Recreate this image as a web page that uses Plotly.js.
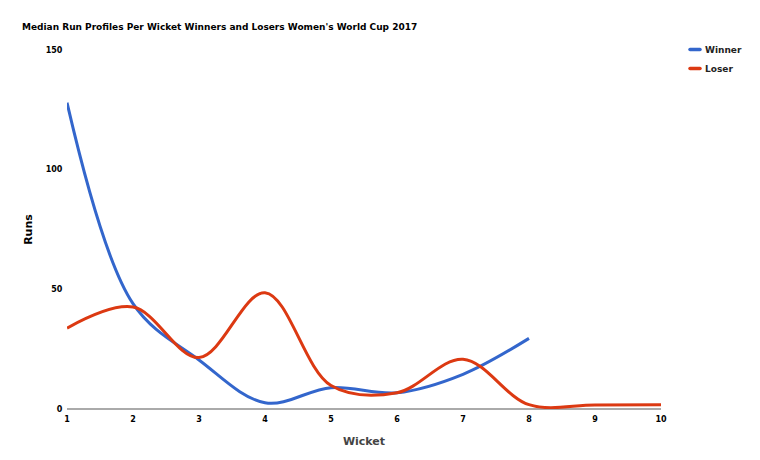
<!DOCTYPE html>
<html>
<head>
<meta charset="utf-8">
<script src="https://cdn.plot.ly/plotly-3.0.1.min.js"></script>
<style>html,body{margin:0;padding:0;background:#fff;}#chart{width:760px;height:460px;}</style>
</head>
<body>
<div id="chart"></div>
<script>
var wicketsWinner = [1, 2, 3, 4, 5, 6, 7, 8];
var winnerRuns = [128, 44, 20.5, 2.6, 8.9, 6.8, 14.5, 29.5];
var wicketsLoser = [1, 2, 3, 4, 5, 6, 7, 8, 9, 10];
var loserRuns = [33.8, 42.6, 21.5, 48.6, 9.8, 6.8, 20.8, 1.8, 1.7, 1.8];
var xTicks = [1, 2, 3, 4, 5, 6, 7, 8, 9, 10];
var yTicks = [0, 50, 100, 150];

var FONT = "Verdana, 'DejaVu Sans', sans-serif";

var traces = [
  {x: wicketsWinner, y: winnerRuns, name: 'Winner', mode: 'lines',
   line: {color: '#3366CC', width: 3, shape: 'spline', smoothing: 1}},
  {x: wicketsLoser, y: loserRuns, name: 'Loser', mode: 'lines',
   line: {color: '#DC3912', width: 3, shape: 'spline', smoothing: 1}}
];

var layout = {
  width: 760, height: 460,
  margin: {l: 67, r: 99, t: 50, b: 51},
  paper_bgcolor: '#fff', plot_bgcolor: '#fff',
  font: {family: FONT, color: '#000'},
  title: {text: 'Median Run Profiles Per Wicket Winners and Losers Women\'s World Cup 2017',
          x: 22/760, xanchor: 'left', y: 1 - 27/460, yanchor: 'middle',
          font: {size: 9, family: FONT, color: '#000', weight: 'bold'}},
  xaxis: {range: [1, 10], tickvals: xTicks,
          showgrid: false, zeroline: false, showline: false, ticks: 'outside', ticklen: 2, tickcolor: 'rgba(0,0,0,0)',
          tickfont: {size: 8, family: FONT, color: '#000', weight: 'bold'},
          title: {text: 'Wicket', font: {size: 11, family: FONT, color: '#444', weight: 'bold'}, standoff: 14}},
  yaxis: {range: [0, 150], tickvals: yTicks,
          showgrid: false, zeroline: true, zerolinecolor: '#aaa', zerolinewidth: 2, showline: false,
          ticks: 'outside', ticklen: 2, tickcolor: 'rgba(0,0,0,0)',
          tickfont: {size: 8, family: FONT, color: '#000', weight: 'bold'},
          title: {text: 'Runs', font: {size: 11, family: FONT, color: '#000', weight: 'bold'}, standoff: 10}},
  showlegend: true,
  legend: {x: (665 - 67)/594, xanchor: 'left', y: 1 + 15/359, yanchor: 'top',
           font: {size: 9, family: FONT, color: '#222', weight: 'bold'}, tracegroupgap: 0, itemwidth: 30,
           bgcolor: 'rgba(0,0,0,0)'}
};

Plotly.newPlot('chart', traces, layout, {displayModeBar: false, staticPlot: true}).then(function(gd){
  // shorten legend line samples to match the compact legend keys of the reference
  var paths = gd.querySelectorAll('.legend .legendlines path');
  paths.forEach(function(p){ p.setAttribute('d', 'M25,0h10'); p.style.strokeLinecap = 'round'; p.style.strokeWidth = '3.5px'; });
});
</script>
</body>
</html>
